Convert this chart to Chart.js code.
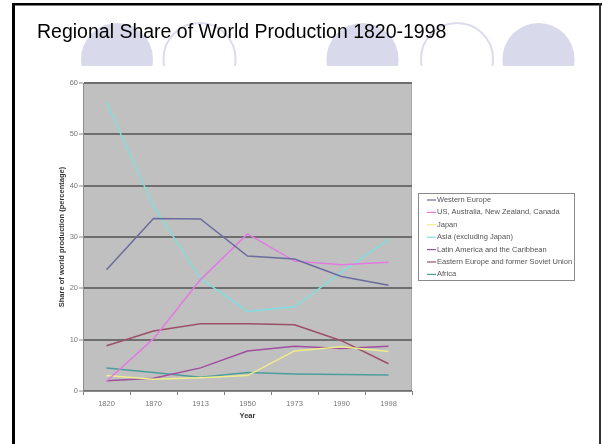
<!DOCTYPE html>
<html>
<head>
<meta charset="utf-8">
<script src="https://cdn.jsdelivr.net/npm/chart.js@4"></script>
<style>
  html, body { margin: 0; padding: 0; background: #fff; }
  #wrap { width: 602px; height: 444px; position: relative; }
</style>
</head>
<body>
<div id="wrap"><canvas id="chart-share" width="602" height="444"></canvas></div>
<script>
// data (share of world production, %)
const years = ['1820', '1870', '1913', '1950', '1973', '1990', '1998'];
const westernEurope = [23.6, 33.6, 33.5, 26.3, 25.7, 22.3, 20.6];
const offshoots = [1.9, 10.2, 21.7, 30.6, 25.3, 24.6, 25.1];
const japan = [3.0, 2.3, 2.6, 3.0, 7.8, 8.6, 7.7];
const asia = [56.2, 36.0, 21.9, 15.5, 16.4, 23.2, 29.5];
const latinAmerica = [2.0, 2.5, 4.5, 7.8, 8.7, 8.3, 8.7];
const easternEurope = [8.8, 11.7, 13.1, 13.1, 12.9, 9.8, 5.3];
const africa = [4.5, 3.6, 2.7, 3.6, 3.3, 3.2, 3.1];
const yTicks = [0, 10, 20, 30, 40, 50, 60];

const FONT = '"Liberation Sans", Arial, sans-serif';

function line(label, data, color) {
  return {
    label: label,
    data: data,
    borderColor: color,
    backgroundColor: color,
    borderWidth: 1.5,
    pointRadius: 0,
    fill: false,
    tension: 0
  };
}

// slide frame, circles, title and the grey plot area
const slideBackground = {
  id: 'slideBackground',
  beforeDraw(chart) {
    const ctx = chart.ctx;
    const a = chart.chartArea;
    ctx.save();
    ctx.fillStyle = '#ffffff';
    ctx.fillRect(0, 0, 602, 444);

    // decorative circles, cut off by the chart picture
    ctx.beginPath();
    ctx.rect(0, 0, 602, 66);
    ctx.clip();
    const circles = [[117, true], [199.5, false], [362.5, true], [457, false], [538.5, true]];
    circles.forEach(c => {
      ctx.beginPath();
      ctx.arc(c[0], 59, 36, 0, Math.PI * 2);
      if (c[1]) {
        ctx.fillStyle = '#d9d9ec';
        ctx.fill();
      } else {
        ctx.strokeStyle = '#dcdcef';
        ctx.lineWidth = 2;
        ctx.stroke();
      }
    });
    ctx.restore();

    ctx.save();
    // frame
    ctx.fillStyle = '#000';
    ctx.fillRect(12, 3, 3, 441);
    ctx.fillRect(12, 3, 590, 2.5);
    ctx.fillStyle = '#333';
    ctx.fillRect(599, 3, 2, 441);

    // title
    ctx.fillStyle = '#000';
    ctx.font = '19.5px ' + FONT;
    ctx.textBaseline = 'alphabetic';
    ctx.fillText('Regional Share of World Production 1820-1998', 37, 38);

    // plot area
    ctx.fillStyle = '#c0c0c0';
    ctx.fillRect(a.left, a.top, a.right - a.left, a.bottom - a.top);
    ctx.strokeStyle = '#a8a8a8';
    ctx.lineWidth = 1;
    ctx.strokeRect(a.left + 0.5, a.top + 0.5, a.right - a.left - 1, a.bottom - a.top - 1);
    ctx.restore();
  },
  afterDraw(chart) {
    const ctx = chart.ctx;
    ctx.save();
    // legend box
    const x = 418, y = 193, w = 156, h = 87;
    ctx.fillStyle = '#ffffff';
    ctx.fillRect(x, y, w, h);
    ctx.strokeStyle = '#8a8a8a';
    ctx.lineWidth = 1;
    ctx.strokeRect(x + 0.5, y + 0.5, w, h);
    ctx.font = '7.5px ' + FONT;
    ctx.textBaseline = 'middle';
    chart.data.datasets.forEach((ds, i) => {
      const ly = 200 + i * 12.4;
      ctx.strokeStyle = ds.borderColor;
      ctx.lineWidth = 1.2;
      ctx.beginPath();
      ctx.moveTo(427, ly);
      ctx.lineTo(436, ly);
      ctx.stroke();
      ctx.fillStyle = '#555';
      ctx.fillText(ds.label, 437, ly);
    });
    ctx.restore();
  }
};

new Chart(document.getElementById('chart-share'), {
  type: 'line',
  data: {
    labels: years,
    datasets: [
      line('Western Europe', westernEurope, '#6b6b9e'),
      line('US, Australia, New Zealand, Canada', offshoots, '#e27ae2'),
      line('Japan', japan, '#eeee8a'),
      line('Asia (excluding Japan)', asia, '#80dede'),
      line('Latin America and the Caribbean', latinAmerica, '#9e4f9e'),
      line('Eastern Europe and former Soviet Union', easternEurope, '#9b5066'),
      line('Africa', africa, '#4f9c9c')
    ]
  },
  options: {
    responsive: false,
    animation: false,
    events: [],
    layout: { padding: { left: 52, top: 83, right: 190, bottom: 24 } },
    plugins: {
      legend: { display: false },
      tooltip: { enabled: false }
    },
    scales: {
      x: {
        offset: true,
        grid: { offset: true, drawOnChartArea: false, drawTicks: true, tickLength: 4, color: '#808080' },
        border: { color: '#8c8c8c', width: 1 },
        ticks: { color: '#777', font: { family: FONT, size: 7.5 }, padding: 4 },
        title: { display: true, text: 'Year', color: '#333', font: { family: FONT, size: 7.5, weight: 'bold' }, padding: { top: 2, bottom: 0 } },
        afterFit(scale) { scale.height = 29; }
      },
      y: {
        min: 0,
        max: 60,
        afterBuildTicks(scale) { scale.ticks = yTicks.map(v => ({ value: v })); },
        grid: { color: '#6e6e6e', lineWidth: 2, tickColor: '#8c8c8c', tickWidth: 1, tickLength: 4 },
        border: { color: '#8c8c8c', width: 1 },
        ticks: { color: '#777', font: { family: FONT, size: 7.5 }, padding: 1 },
        title: { display: true, text: 'Share of world production (percentage)', color: '#333', font: { family: FONT, size: 7.5, weight: 'bold' }, padding: 5 },
        afterFit(scale) { scale.width = 31; }
      }
    }
  },
  plugins: [slideBackground]
});
</script>
</body>
</html>
